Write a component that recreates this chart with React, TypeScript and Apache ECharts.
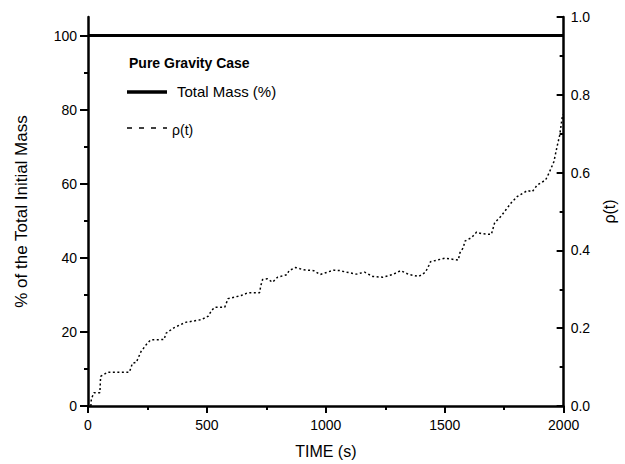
import React, { useEffect, useRef } from "react";
import * as echarts from "echarts";

const timeValues = [12, 14, 25, 50, 53, 83, 174, 187, 203, 223, 249, 264, 320, 328, 361, 410, 477, 506, 520, 534, 575, 589, 644, 672, 721, 727, 734, 755, 776, 797, 838, 845, 873, 907, 949, 976, 1032, 1059, 1087, 1129, 1163, 1198, 1239, 1281, 1315, 1350, 1391, 1419, 1433, 1440, 1502, 1557, 1564, 1578, 1585, 1613, 1634, 1654, 1696, 1710, 1737, 1758, 1779, 1806, 1848, 1868, 1889, 1924, 1938, 1959, 1972, 1983, 1990, 1996];
const rhoValues = [0, 0.018, 0.034, 0.034, 0.076, 0.087, 0.087, 0.11, 0.112, 0.14, 0.161, 0.17, 0.171, 0.187, 0.201, 0.215, 0.222, 0.231, 0.246, 0.254, 0.254, 0.276, 0.284, 0.291, 0.291, 0.31, 0.325, 0.327, 0.318, 0.331, 0.338, 0.348, 0.356, 0.35, 0.348, 0.338, 0.349, 0.348, 0.344, 0.339, 0.344, 0.333, 0.331, 0.338, 0.348, 0.338, 0.333, 0.344, 0.361, 0.371, 0.38, 0.375, 0.394, 0.407, 0.424, 0.433, 0.447, 0.443, 0.441, 0.471, 0.488, 0.505, 0.522, 0.539, 0.554, 0.551, 0.568, 0.581, 0.598, 0.628, 0.666, 0.695, 0.725, 0.75];

const massTimes = [0, 2000];
const massValues = [100, 100];

const leftTicks = [0, 20, 40, 60, 80, 100];
const leftMinorTicks = [10, 30, 50, 70, 90];
const FONT = "Arial, 'Liberation Sans', sans-serif";

export default function App() {
  const ref = useRef<HTMLDivElement>(null);
  useEffect(() => {
    if (!ref.current) return;
    const chart = echarts.init(ref.current, null, { renderer: "svg" });
    const axisLine = { show: true, onZero: false, lineStyle: { color: "#000", width: 2.5 } };
    chart.setOption({
      animation: false,
      backgroundColor: "#fff",
      grid: { left: 88, right: 55, top: 17, bottom: 54 },
      xAxis: {
        type: "value",
        min: 0,
        max: 2000,
        interval: 500,
        axisLine,
        axisTick: { show: true, length: 7, lineStyle: { color: "#000", width: 2 } },
        minorTick: { show: true, splitNumber: 2, length: 4, lineStyle: { color: "#000", width: 2 } },
        splitLine: { show: false },
        axisLabel: { fontSize: 14, color: "#000", fontFamily: FONT, margin: 12, formatter: (v: number) => String(v) },
        name: "TIME (s)",
        nameLocation: "middle",
        nameGap: 37,
        nameTextStyle: { fontSize: 16, color: "#000", fontFamily: FONT },
      },
      yAxis: [
        {
          type: "value",
          position: "left",
          min: 0,
          max: 105,
          axisLine,
          axisTick: { show: true, length: 8, customValues: leftTicks, lineStyle: { color: "#000", width: 2 } },
          axisLabel: { customValues: leftTicks, fontSize: 14, color: "#000", fontFamily: FONT, margin: 11, formatter: (v: number) => String(v) },
          splitLine: { show: false },
          name: "% of the Total Initial Mass",
          nameLocation: "middle",
          nameGap: 58,
          nameTextStyle: { fontSize: 17, color: "#000", fontFamily: FONT },
        },
        {
          type: "value",
          position: "right",
          min: 0,
          max: 1,
          interval: 0.2,
          axisLine,
          axisTick: { show: true, inside: true, length: 7, lineStyle: { color: "#000", width: 2 } },
          minorTick: { show: true, splitNumber: 2, length: 4, lineStyle: { color: "#000", width: 2 } },
          axisLabel: { fontSize: 14, color: "#000", fontFamily: FONT, margin: 7, formatter: (v: number) => v.toFixed(1) },
          splitLine: { show: false },
          name: "ρ(t)",
          nameLocation: "middle",
          nameGap: 36,
          nameTextStyle: { fontSize: 16, color: "#000", fontFamily: FONT },
        },
        {
          type: "value",
          position: "left",
          min: 0,
          max: 105,
          axisLine: { show: false },
          axisTick: { show: true, length: 4, customValues: leftMinorTicks, lineStyle: { color: "#000", width: 2 } },
          axisLabel: { show: false },
          splitLine: { show: false },
        },
      ],
      series: [
        {
          type: "line",
          name: "Total Mass (%)",
          yAxisIndex: 0,
          data: massTimes.map((t, i) => [t, massValues[i]]),
          symbol: "none",
          lineStyle: { color: "#000", width: 3 },
          z: 3,
        },
        {
          type: "line",
          name: "ρ(t)",
          yAxisIndex: 1,
          data: timeValues.map((t, i) => [t, rhoValues[i]]),
          symbol: "none",
          lineStyle: { color: "#000", width: 1.5, type: [2, 2.5] },
        },
      ],
      graphic: [
        { type: "text", left: 129, top: 56, style: { text: "Pure Gravity Case", font: `bold 14px ${FONT}`, fill: "#000" } },
        { type: "line", shape: { x1: 127, y1: 92, x2: 167, y2: 92 }, style: { stroke: "#000", lineWidth: 3.5 } },
        { type: "text", left: 177, top: 84, style: { text: "Total Mass (%)", font: `15px ${FONT}`, fill: "#000" } },
        { type: "line", shape: { x1: 127, y1: 128, x2: 167, y2: 128 }, style: { stroke: "#000", lineWidth: 1.5, lineDash: [5, 7] } },
        { type: "text", left: 172, top: 123, style: { text: "ρ(t)", font: `14px ${FONT}`, fill: "#000" } },
      ],
    });
    return () => chart.dispose();
  }, []);
  return <div ref={ref} style={{ position: "fixed", left: 0, top: 0, width: 625, height: 464 }} />;
}
